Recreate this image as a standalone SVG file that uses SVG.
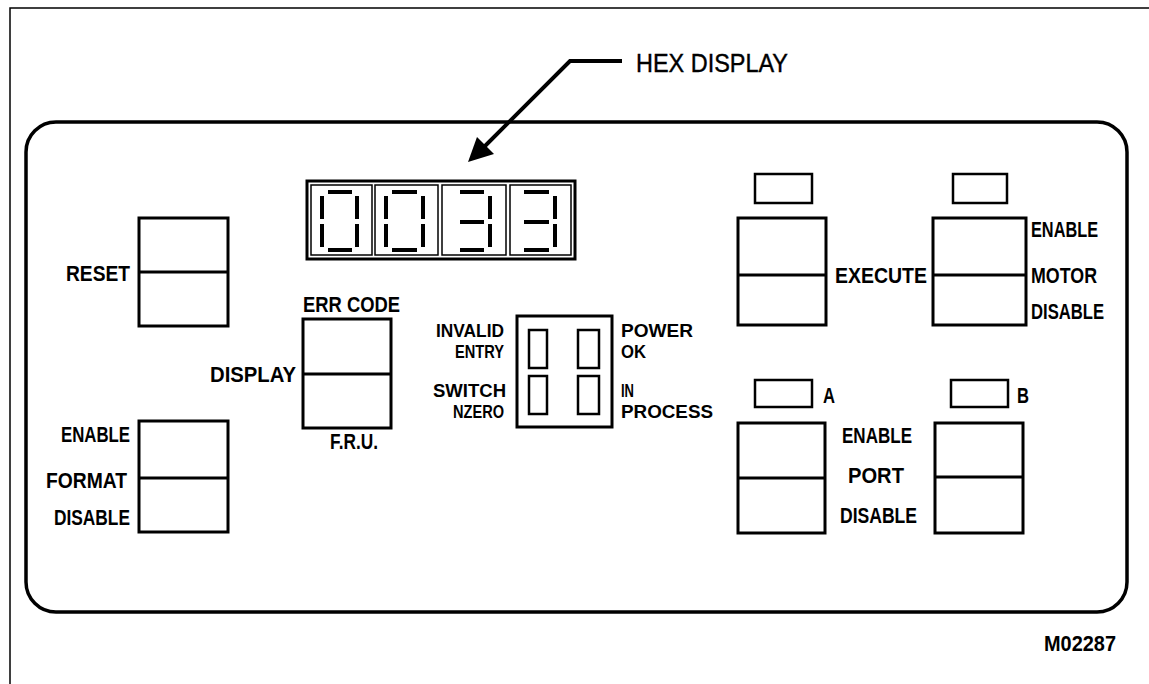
<svg xmlns="http://www.w3.org/2000/svg" width="1149" height="684" viewBox="0 0 1149 684">
<style>
.frame{fill:none;stroke:#000;stroke-width:1.5}
.panel{fill:none;stroke:#000;stroke-width:3.5}
.sw{fill:#fff;stroke:#000;stroke-width:3}
.led{fill:#fff;stroke:#000;stroke-width:2.5}
.seg{stroke:#000;stroke-width:4;stroke-linecap:butt}
.lbl{font-family:"Liberation Sans",Arial,sans-serif;font-weight:bold;font-size:22px;fill:#000}
.st{font-size:19px}
.hex{font-family:"Liberation Sans",Arial,sans-serif;font-size:25px;fill:#000;stroke:#000;stroke-width:0.4}
.conn{fill:none;stroke:#000;stroke-width:4}
</style>
<rect width="1149" height="684" fill="#fff"/>
<path class="frame" d="M10,684 V8 H1149"/>
<rect id="panel" class="panel" x="26" y="122" width="1101" height="490" rx="30" ry="30"/>

<g id="hex-label">
<text class="hex" x="636" y="72" textLength="152" lengthAdjust="spacingAndGlyphs">HEX DISPLAY</text>
</g>
<g id="connectors">
<polyline class="conn" points="622,61 570,61 482,149"/>
<polygon points="468,162 477,137 494,154" fill="#000"/>
</g>

<g id="hex-display">
<rect x="307" y="181" width="268" height="78" fill="#fff" stroke="#000" stroke-width="3"/>
<rect x="311" y="185" width="61" height="70" fill="none" stroke="#000" stroke-width="1.5"/>
<rect x="375" y="185" width="63" height="70" fill="none" stroke="#000" stroke-width="1.5"/>
<rect x="442" y="185" width="64" height="70" fill="none" stroke="#000" stroke-width="1.5"/>
<rect x="510" y="185" width="61" height="70" fill="none" stroke="#000" stroke-width="1.5"/>
<g class="seg">
<line x1="328" y1="192" x2="352" y2="192"/>
<line x1="322" y1="196" x2="322" y2="219"/>
<line x1="322" y1="224" x2="322" y2="247"/>
<line x1="357" y1="196" x2="357" y2="219"/>
<line x1="357" y1="224" x2="357" y2="247"/>
<line x1="328" y1="250" x2="352" y2="250"/>
</g>
<g class="seg">
<line x1="392" y1="192" x2="417" y2="192"/>
<line x1="386" y1="196" x2="386" y2="219"/>
<line x1="386" y1="224" x2="386" y2="247"/>
<line x1="423" y1="196" x2="423" y2="219"/>
<line x1="423" y1="224" x2="423" y2="247"/>
<line x1="392" y1="250" x2="417" y2="250"/>
</g>
<g class="seg">
<line x1="460" y1="192" x2="484" y2="192"/>
<line x1="490" y1="196" x2="490" y2="219"/>
<line x1="460" y1="222" x2="484" y2="222"/>
<line x1="490" y1="224" x2="490" y2="247"/>
<line x1="460" y1="250" x2="484" y2="250"/>
</g>
<g class="seg">
<line x1="524" y1="192" x2="549" y2="192"/>
<line x1="555" y1="196" x2="555" y2="219"/>
<line x1="524" y1="222" x2="549" y2="222"/>
<line x1="555" y1="224" x2="555" y2="247"/>
<line x1="524" y1="250" x2="549" y2="250"/>
</g>
</g>

<g id="reset">
<rect class="sw" x="139" y="218" width="89" height="108"/>
<line x1="139" y1="272" x2="228" y2="272" stroke="#000" stroke-width="3"/>
<text class="lbl" x="66" y="281" textLength="64" lengthAdjust="spacingAndGlyphs">RESET</text>
</g>

<g id="display">
<rect class="sw" x="303" y="319" width="88" height="109"/>
<line x1="303" y1="374" x2="391" y2="374" stroke="#000" stroke-width="3"/>
<text class="lbl" x="303" y="312" textLength="97" lengthAdjust="spacingAndGlyphs">ERR CODE</text>
<text class="lbl" x="210" y="382" textLength="86" lengthAdjust="spacingAndGlyphs">DISPLAY</text>
<text class="lbl" x="330" y="449" textLength="48" lengthAdjust="spacingAndGlyphs">F.R.U.</text>
</g>

<g id="format">
<rect class="sw" x="139" y="421" width="89" height="111"/>
<line x1="139" y1="478" x2="228" y2="478" stroke="#000" stroke-width="3"/>
<text class="lbl" x="61" y="442" textLength="69" lengthAdjust="spacingAndGlyphs">ENABLE</text>
<text class="lbl" x="46" y="488" textLength="81" lengthAdjust="spacingAndGlyphs">FORMAT</text>
<text class="lbl" x="54" y="525" textLength="76" lengthAdjust="spacingAndGlyphs">DISABLE</text>
</g>

<g id="status">
<rect class="sw" x="517" y="316" width="95" height="111"/>
<rect class="led" x="529" y="330" width="18" height="38"/>
<rect class="led" x="529" y="376" width="18" height="38"/>
<rect class="led" x="578" y="330" width="21" height="38"/>
<rect class="led" x="578" y="376" width="21" height="38"/>
<text class="lbl st" x="436" y="337" textLength="68" lengthAdjust="spacingAndGlyphs">INVALID</text>
<text class="lbl st" x="455" y="358" textLength="49" lengthAdjust="spacingAndGlyphs">ENTRY</text>
<text class="lbl st" x="433" y="397" textLength="73" lengthAdjust="spacingAndGlyphs">SWITCH</text>
<text class="lbl st" x="453" y="418" textLength="51" lengthAdjust="spacingAndGlyphs">NZERO</text>
<text class="lbl st" x="621" y="337" textLength="72" lengthAdjust="spacingAndGlyphs">POWER</text>
<text class="lbl st" x="621" y="358" textLength="25" lengthAdjust="spacingAndGlyphs">OK</text>
<text class="lbl st" x="621" y="397" textLength="13" lengthAdjust="spacingAndGlyphs">IN</text>
<text class="lbl st" x="621" y="418" textLength="92" lengthAdjust="spacingAndGlyphs">PROCESS</text>
</g>

<g id="execute">
<rect class="led" x="755" y="174" width="57" height="29"/>
<rect class="sw" x="738" y="218" width="88" height="107"/>
<line x1="738" y1="275" x2="826" y2="275" stroke="#000" stroke-width="3"/>
<text class="lbl" x="835" y="283" textLength="92" lengthAdjust="spacingAndGlyphs">EXECUTE</text>
</g>

<g id="motor">
<rect class="led" x="953" y="174" width="54" height="29"/>
<rect class="sw" x="933" y="218" width="93" height="107"/>
<line x1="933" y1="275" x2="1026" y2="275" stroke="#000" stroke-width="3"/>
<text class="lbl" x="1031" y="237" textLength="67" lengthAdjust="spacingAndGlyphs">ENABLE</text>
<text class="lbl" x="1031" y="283" textLength="66" lengthAdjust="spacingAndGlyphs">MOTOR</text>
<text class="lbl" x="1031" y="319" textLength="73" lengthAdjust="spacingAndGlyphs">DISABLE</text>
</g>

<g id="port-a">
<rect class="led" x="755" y="380" width="57" height="27"/>
<text class="lbl" x="823" y="403" textLength="12" lengthAdjust="spacingAndGlyphs">A</text>
<rect class="sw" x="738" y="423" width="87" height="110"/>
<line x1="738" y1="478" x2="825" y2="478" stroke="#000" stroke-width="3"/>
</g>

<g id="port-labels">
<text class="lbl" x="842" y="443" textLength="70" lengthAdjust="spacingAndGlyphs">ENABLE</text>
<text class="lbl" x="848" y="483" textLength="56" lengthAdjust="spacingAndGlyphs">PORT</text>
<text class="lbl" x="840" y="523" textLength="77" lengthAdjust="spacingAndGlyphs">DISABLE</text>
</g>

<g id="port-b">
<rect class="led" x="951" y="380" width="57" height="27"/>
<text class="lbl" x="1017" y="403" textLength="12" lengthAdjust="spacingAndGlyphs">B</text>
<rect class="sw" x="935" y="423" width="88" height="110"/>
<line x1="935" y1="477" x2="1023" y2="477" stroke="#000" stroke-width="3"/>
</g>

<g id="figure-id">
<text class="lbl" x="1044" y="651" textLength="72" lengthAdjust="spacingAndGlyphs">M02287</text>
</g>
</svg>
